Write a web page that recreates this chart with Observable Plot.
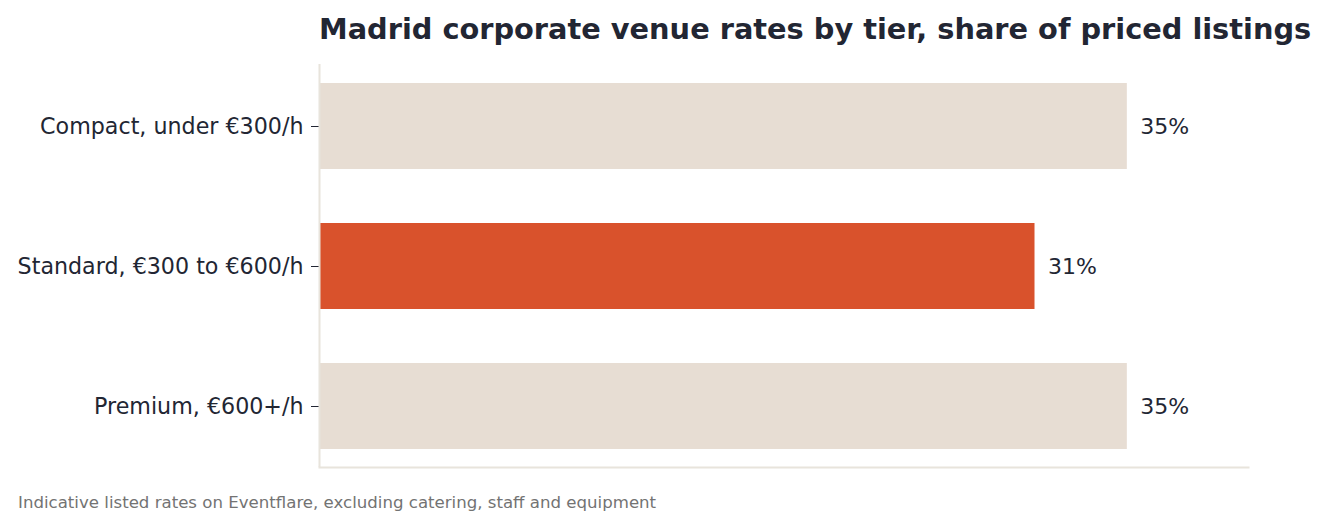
<!DOCTYPE html>
<html>
<head>
<meta charset="utf-8">
<script src="https://cdn.jsdelivr.net/npm/d3@7"></script>
<script src="https://cdn.jsdelivr.net/npm/@observablehq/plot@0.6"></script>
<style>
  html, body { margin: 0; padding: 0; background: #ffffff; }
  body { width: 1327px; height: 529px; position: relative; overflow: hidden; font-family: "DejaVu Sans", sans-serif; }
  #title { position: absolute; left: 319px; top: 12px; font-size: 28.8px; font-weight: bold; color: #222633; white-space: nowrap; line-height: 1.2; }
  #chart { position: absolute; left: 0; top: 50px; }
  #caption { position: absolute; left: 18px; top: 493px; font-size: 16.6px; color: #737373; white-space: nowrap; line-height: 1.2; }
</style>
</head>
<body>
<div id="title">Madrid corporate venue rates by tier, share of priced listings</div>
<div id="chart"></div>
<div id="caption">Indicative listed rates on Eventflare, excluding catering, staff and equipment</div>
<script>
const tiers = ["Compact, under €300/h", "Standard, €300 to €600/h", "Premium, €600+/h"];
const shares = [35, 31, 35];
const highlight = ["Standard, €300 to €600/h"];

const data = tiers.map((t, i) => ({tier: t, share: shares[i]}));
const maxShare = d3.max(shares);

const plot = Plot.plot({
  width: 1327,
  height: 436,
  marginLeft: 319,
  marginRight: 79,
  marginTop: 14,
  marginBottom: 19,
  style: {fontFamily: "DejaVu Sans, sans-serif", fontSize: "22.2px", color: "#222633", background: "transparent"},
  x: {domain: [0, maxShare * 1.15], axis: null},
  y: {domain: tiers, paddingInner: 0.386, paddingOuter: 0.132, label: null, tickSize: 8, tickPadding: 8},
  marks: [
    Plot.barX(data, {
      y: "tier", x: "share",
      fill: d => highlight.includes(d.tier) ? "#d9522c" : "#e7ddd3"
    }),
    Plot.text(data, {
      y: "tier", x: "share",
      text: d => `${d.share}%`,
      textAnchor: "start", dx: 13, fill: "#222633", fontSize: 22
    }),
    Plot.ruleX([0], {stroke: "#e8e4dc", strokeWidth: 2}),
    Plot.frame({anchor: "bottom", stroke: "#e8e4dc", strokeWidth: 2})
  ]
});
document.getElementById("chart").appendChild(plot);
</script>
</body>
</html>
